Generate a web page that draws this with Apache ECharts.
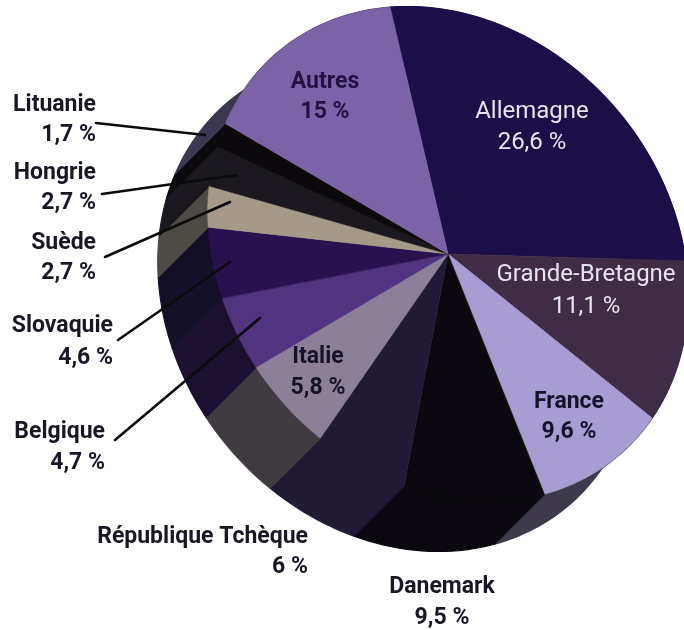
<!DOCTYPE html>
<html lang="fr">
<head>
<meta charset="utf-8">
<style>html,body{margin:0;padding:0;background:#fff}#chart{width:684px;height:630px}</style>
<script src="https://cdn.jsdelivr.net/npm/echarts@6/dist/echarts.min.js"></script>
</head>
<body>
<div id="chart"></div>
<script>
// Shares by country, in percent, clockwise from the start of the first slice
const countries = ['Allemagne', 'Grande-Bretagne', 'France', 'Danemark', 'République Tchèque', 'Italie',
  'Belgique', 'Slovaquie', 'Suède', 'Hongrie', 'Lituanie', 'Autres'];
const shares = [26.6, 11.1, 9.6, 9.5, 6, 5.8, 4.7, 4.6, 2.7, 2.7, 1.7, 15];

// Slice colours: upper face and rim
const topColors = ['#1c0f47', '#3f2c45', '#a89dd2', '#0b090f', '#211a34', '#8b8097',
  '#503480', '#27114f', '#a59a88', '#1a171e', '#0b090b', '#7b63a9'];
const sideColors = ['#1c0f47', '#3f2c45', '#3e3a4b', '#0b090f', '#211a34', '#403b40',
  '#1c1030', '#15102a', '#4d4a44', '#1a171e', '#0b090b', '#3c3851'];

// Tilted disc seen in parallel projection
const hub = [448, 254];
const semiMajor = 264, semiMinor = 222;
const tilt = 50 * Math.PI / 180;
const startAngle = 211 * Math.PI / 180;
const depth = [-50, 50];

const total = shares.reduce((s, v) => s + v, 0);
const cumulative = shares.map((_, i) => shares.slice(0, i).reduce((s, v) => s + v, 0));

function rimPoint(t, offset) {
  const u = semiMajor * Math.cos(t), v = semiMinor * Math.sin(t);
  return [
    hub[0] + u * Math.cos(tilt) - v * Math.sin(tilt) + (offset ? depth[0] : 0),
    hub[1] + u * Math.sin(tilt) + v * Math.cos(tilt) + (offset ? depth[1] : 0)
  ];
}

function arc(index, value, offset) {
  const t0 = startAngle + cumulative[index] / total * 2 * Math.PI;
  const t1 = t0 + value / total * 2 * Math.PI;
  const steps = Math.max(8, Math.ceil(value * 2));
  const points = [];
  for (let k = 0; k <= steps; k++) points.push(rimPoint(t0 + (t1 - t0) * k / steps, offset));
  return points;
}

const sliceData = countries.map((name, i) => ({ name, value: shares[i] }));

function renderSide(params, api) {
  const i = params.dataIndex, value = api.value(0);
  const points = arc(i, value, false).concat(arc(i, value, true).reverse());
  return { type: 'polygon', shape: { points },
    style: { fill: sideColors[i], stroke: sideColors[i], lineWidth: 1.2, lineJoin: 'round' } };
}

function renderTop(params, api) {
  const i = params.dataIndex, value = api.value(0);
  const points = [hub].concat(arc(i, value, false));
  return { type: 'polygon', shape: { points },
    style: { fill: topColors[i], stroke: topColors[i], lineWidth: 0.6, lineJoin: 'round' } };
}

// Label placement: x, y of the name line, y of the value line, alignment, colour
const darkInk = '#1b1626', lightInk = '#e8e4ee';
const labelPlaces = {
  'Allemagne': [532, 112, 143, 'center', lightInk],
  'Grande-Bretagne': [586, 275, 307, 'center', lightInk],
  'France': [569, 402, 432, 'center', '#17122c'],
  'Danemark': [442, 587, 618, 'center', darkInk],
  'République Tchèque': [308, 537, 567, 'right', darkInk],
  'Italie': [318, 357, 388, 'center', '#17122c'],
  'Belgique': [105, 432, 463, 'right', darkInk],
  'Slovaquie': [113, 326, 358, 'right', darkInk],
  'Suède': [96, 243, 273, 'right', darkInk],
  'Hongrie': [96, 173, 203, 'right', darkInk],
  'Lituanie': [96, 105, 135, 'right', darkInk],
  'Autres': [325, 82, 112, 'center', '#21123f']
};

// Leader lines from the outer labels to their slices
const leaders = [
  [96, 123, 205, 135],
  [102, 194, 237, 175],
  [105, 257, 230, 202],
  [118, 340, 230, 262],
  [115, 440, 260, 318]
];

const fmt = v => String(v).replace('.', ',') + ' %';
const labelFont = 'Roboto, sans-serif';

const textElements = [];
countries.forEach((name, i) => {
  const p = labelPlaces[name];
  const light = p[4] === lightInk;
  [[name, p[1]], [fmt(shares[i]), p[2]]].forEach(([text, y]) => {
    textElements.push({
      type: 'text', x: p[0], y, z: 30,
      style: { text, fill: p[4], textAlign: p[3], textVerticalAlign: 'middle',
        font: (light ? '400 24px ' : '700 23px ') + labelFont }
    });
  });
});
const lineElements = leaders.map(l => ({
  type: 'line', z: 20,
  shape: { x1: l[0], y1: l[1], x2: l[2], y2: l[3] },
  style: { stroke: '#0b0a0c', lineWidth: 2.6, lineCap: 'round' }
}));

const chart = echarts.init(document.getElementById('chart'), null, { renderer: 'canvas' });
chart.setOption({
  animation: false,
  backgroundColor: '#ffffff',
  series: [
    { type: 'custom', coordinateSystem: 'none', name: 'rim', z: 1, silent: true,
      data: sliceData, renderItem: renderSide },
    { type: 'custom', coordinateSystem: 'none', name: 'parts', z: 2, silent: true,
      data: sliceData, renderItem: renderTop }
  ],
  graphic: { elements: lineElements.concat(textElements) }
});
</script>
</body>
</html>
